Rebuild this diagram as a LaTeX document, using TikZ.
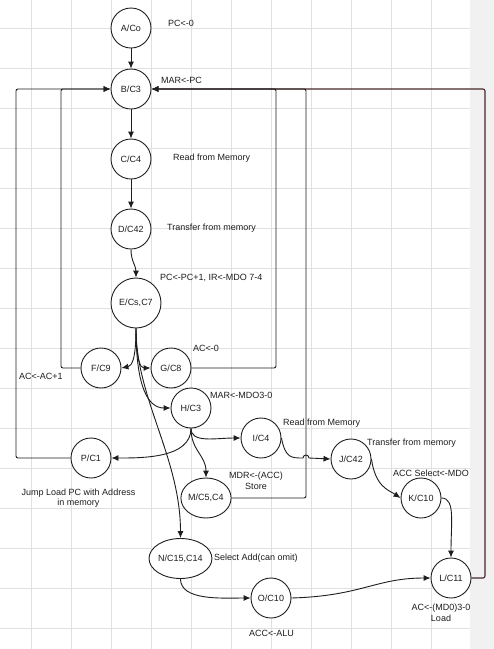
\documentclass[tikz,border=0pt]{standalone}
\usepackage{fontspec}
\setmainfont{Liberation Sans}
\usetikzlibrary{arrows.meta,shapes.geometric}
\definecolor{gridc}{RGB}{224,224,224}
\definecolor{sidec}{RGB}{241,241,241}
\definecolor{maroonline}{RGB}{72,40,40}
\definecolor{ink}{RGB}{30,30,30}
\begin{document}
\begin{tikzpicture}[x=1pt,y=-1pt,
  every node/.style={font=\fontsize{9}{10.5}\selectfont, text=ink},
  st/.style={circle, draw=ink, line width=0.9pt, minimum size=40pt, inner sep=0pt, fill=white},
  ell/.style={ellipse, draw=ink, line width=0.9pt, inner sep=0pt, fill=white},
  lbl/.style={anchor=west, inner sep=0pt},
  lblc/.style={align=center, inner sep=0pt},
  edge/.style={draw=ink, line width=0.9pt, -{Latex[length=7pt,width=6pt]}},
  loop/.style={edge, rounded corners=2pt},
]
\useasboundingbox (0,0) rectangle (494,649);
% canvas: grid on the left, grey margin on the right
\fill[white] (0,0) rectangle (494,649);
\fill[sidec] (470,0) rectangle (494,649);
\foreach \gx in {31,71,...,431} \draw[gridc, line width=0.7pt] (\gx,0) -- (\gx,649);
\foreach \gy in {28,68,...,628} \draw[gridc, line width=0.7pt] (0,\gy) -- (470,\gy);

% states
\node[st] (A) at (131,28) {A/Co};
\node[st] (B) at (131,89) {B/C3};
\node[st] (C) at (131,159) {C/C4};
\node[st] (D) at (131,229) {D/C42};
\node[st, minimum size=50pt] (E) at (136,303) {E/Cs,C7};
\node[st] (F) at (101,368) {F/C9};
\node[st] (G) at (171,368) {G/C8};
\node[st] (H) at (191,408) {H/C3};
\node[st] (I) at (261,438) {I/C4};
\node[st] (P) at (91,458) {P/C1};
\node[st] (J) at (351,459) {J/C42};
\node[ell, minimum width=50pt, minimum height=40pt] (M) at (206,498) {M/C5,C4};
\node[st] (K) at (421,498) {K/C10};
\node[ell, minimum width=59pt, minimum height=40pt] (N) at (180.5,558.5) {N/C15,C14};
\node[st] (O) at (271,598) {O/C10};
\node[st] (L) at (451,578) {L/C11};

% micro-operation labels
\node[lbl] (tA) at (168,23) {PC<-0};
\node[lbl] (tB) at (161,80) {MAR<-PC};
\node[lbl] (tC) at (173,158) {Read from Memory};
\node[lbl] (tD) at (167,228) {Transfer from memory};
\node[lbl] (tE) at (160,278) {PC<-PC+1, IR<-MDO 7-4};
\node[lbl] (tG) at (193,348) {AC<-0};
\node[lbl] (tF) at (19,376) {AC<-AC+1};
\node[lbl] (tH) at (210,395) {MAR<-MDO3-0};
\node[lbl] (tI) at (283,423) {Read from Memory};
\node[lbl] (tJ) at (367,443) {Transfer from memory};
\node[lbl] (tK) at (393,473) {ACC Select<-MDO};
\node[lblc] (tM) at (256,481) {MDR<-(ACC)\\Store};
\node[lblc] (tP) at (78.5,498) {Jump Load PC with Address\\in memory};
\node[lbl] (tN) at (214,558) {Select Add(can omit)};
\node[lbl] (tO) at (249,633) {ACC<-ALU};
\node[lblc] (tL) at (441,613) {AC<-(MD0)3-0\\Load};

% return paths to B
\draw[loop, draw=maroonline, line width=1.1pt] (L.east) -- (485,578) -- (485,89) -- (B.east);
\draw[loop] (M.east) -- (306,498) -- (306,89) -- (B.east);
\draw[loop] (G.east) -- (276,368) -- (276,89) -- (B.east);
\draw[loop] (P.west) -- (16,458) -- (16,89) -- (B.west);
\draw[loop] (F.west) -- (61,368) -- (61,89) -- (B.west);

% fetch / decode chain
\draw[edge] (A) -- (B);
\draw[edge] (B) -- (C);
\draw[edge] (C) -- (D);
\draw[edge] (D.south) .. controls +(0,12) and +(0,-12) .. (E.north);

% branches out of E
\draw[edge] (E.south) .. controls +(0,32) and +(10,-2) .. (F.east);
\draw[edge] (E.south) .. controls +(0,32) and +(-10,0) .. (G.west);
\draw[edge] (E.south) .. controls +(0,60) and +(-22,0) .. (H.west);
\draw[edge] (E.south) .. controls +(0,70) and +(0,-80) .. (N.north);

% branches out of H
\draw[edge] (H.south) .. controls +(0,30) and +(30,0) .. (P.east);
\draw[edge] (H.south) .. controls +(0,15) and +(-25,0) .. (I.west);
\draw[edge] (H.south) .. controls +(0,22) and +(0,-22) .. (M.north);

% load sequence (small hop where it crosses the M return line)
\draw[edge] (I.east) .. controls +(4,20) and +(-12,0) .. (303,458)
  .. controls +(0,-4) and +(0,-4) .. (309,458) -- (J.west);
\draw[edge] (J.east) .. controls +(4,28) and +(-12,-8) .. (K.west);
\draw[edge] (K.east) .. controls +(14,0) and +(0,-35) .. (L.north);

% add sequence
\draw[edge] (N.south) .. controls +(0,22) and +(-28,0) .. (O.west);
\draw[edge] (O.east) .. controls +(70,-2) and +(-55,0) .. (L.west);
\end{tikzpicture}
\end{document}
